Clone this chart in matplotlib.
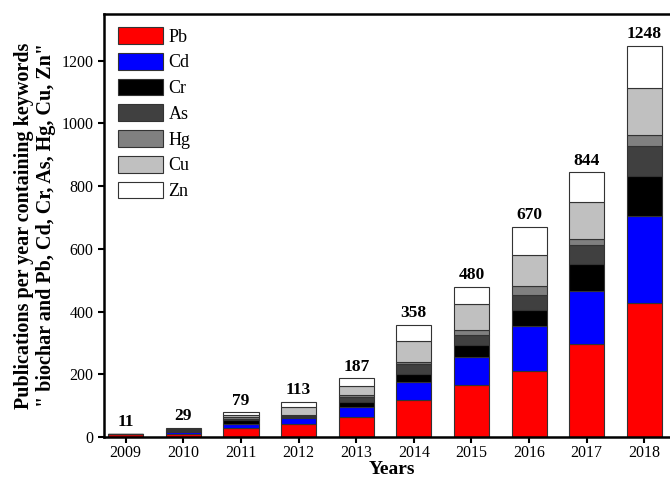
import matplotlib
matplotlib.use("Agg")
import matplotlib.pyplot as plt
import numpy as np

plt.rcParams['font.family'] = ['Liberation Serif', 'DejaVu Serif']

years = [2009, 2010, 2011, 2012, 2013, 2014, 2015, 2016, 2017, 2018]
metals = ["Pb", "Cd", "Cr", "As", "Hg", "Cu", "Zn"]
colors = ["#ff0000", "#0000ff", "#000000", "#404040", "#808080", "#c0c0c0", "#ffffff"]

pb = [9, 10, 30, 41, 65, 119, 165, 211, 298, 428]
cd = [0, 5, 12, 19, 32, 56, 91, 144, 168, 276]
cr = [0, 3, 11, 4, 16, 27, 37, 51, 86, 129]
as_ = [0, 3, 6, 4, 14, 30, 31, 48, 60, 95]
hg = [0, 2, 4, 2, 7, 8, 17, 28, 19, 35]
cu = [1, 4, 8, 25, 29, 67, 82, 97, 117, 149]
zn = [1, 2, 8, 18, 24, 51, 57, 91, 96, 136]

series = [pb, cd, cr, as_, hg, cu, zn]

fig = plt.figure(figsize=(6.7, 4.83), dpi=100)
# frame runs past the right edge, so no right spine shows
ax = fig.add_axes([0.155, 0.095, 0.86, 0.877])

bottom = np.zeros(len(years))
for name, vals, c in zip(metals, series, colors):
    ax.bar(years, vals, width=0.61, bottom=bottom, color=c, edgecolor="#333333",
           linewidth=0.8, label=name)
    bottom += np.array(vals)

# totals above each stack
for x, tot in zip(years, bottom):
    ax.text(x, tot + 12, "%d" % tot, ha="center", va="bottom",
            fontsize=12.5, fontweight="bold")

ax.set_xlim(2008.62, 2018.62)
ax.set_ylim(0, 1350)
ax.set_xticks(years)
ax.set_yticks(range(0, 1201, 200))
ax.tick_params(direction="out", width=1.5, length=4, labelsize=11.5)
ax.tick_params(axis="x", pad=2)
for s in ax.spines.values():
    s.set_linewidth(1.8)

ax.set_xlabel("Years", fontsize=14, fontweight="bold", labelpad=0)
ax.set_ylabel("Publications per year containing keywords\n"
              "\" biochar and Pb, Cd, Cr, As, Hg, Cu, Zn\"",
              fontsize=14.5, fontweight="bold", labelpad=4, linespacing=1.15)

ax.legend(loc="upper left", frameon=False, fontsize=13, handlelength=2.5,
          handleheight=1.05, labelspacing=0.4, handletextpad=0.3,
          borderaxespad=0.0, bbox_to_anchor=(0.012, 0.985))

fig.savefig("out.png")
